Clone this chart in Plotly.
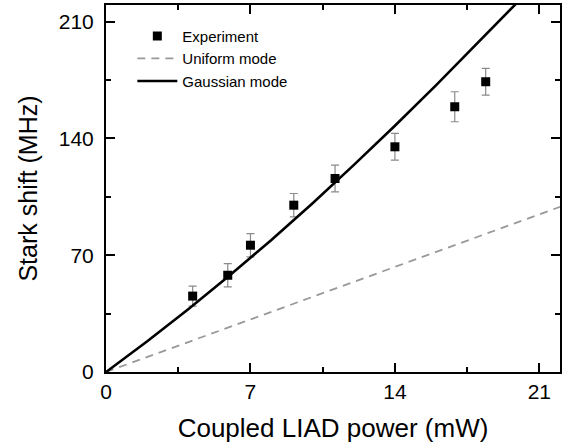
import plotly.graph_objects as go

# Experimental data
exp_power = [4.2, 5.9, 7.0, 9.1, 11.1, 14.0, 16.9, 18.4]
exp_shift = [45.5, 58, 76, 100, 116, 135, 159, 174]
exp_err = [6, 7, 7, 7, 8, 8, 9, 8]

# Uniform mode (dashed)
uni_power = [0, 22]
uni_shift = [0, 99]

# Gaussian mode (solid)
gau_power = [0, 2, 4, 6, 8, 10, 12, 14, 16, 18, 20, 21]
gau_shift = [0, 18.4, 37.8, 58, 79, 101, 124, 147.6, 172, 197, 222, 235]

x_ticks = [0, 7, 14, 21]
y_ticks = [0, 70, 140, 210]

FONT = "Liberation Sans, Arial, sans-serif"

fig = go.Figure()
fig.add_trace(go.Scatter(
    x=exp_power, y=exp_shift, mode="markers", name="Experiment",
    marker=dict(symbol="square", size=9, color="black"),
    error_y=dict(type="data", array=exp_err, color="#8a8a8a", thickness=1.2, width=4),
))
fig.add_trace(go.Scatter(
    x=uni_power, y=uni_shift, mode="lines", name="Uniform mode",
    line=dict(color="#999999", width=1.8, dash="8px,6px"),
))
fig.add_trace(go.Scatter(
    x=gau_power, y=gau_shift, mode="lines", name="Gaussian mode",
    line=dict(color="black", width=2.6),
))

axis_common = dict(
    showline=True, linecolor="black", linewidth=2, mirror="ticks",
    ticks="inside", ticklen=9, tickwidth=2, tickcolor="black",
    showgrid=False, zeroline=False, automargin=False,
    tickfont=dict(family=FONT, size=21, color="black"),
)

fig.update_xaxes(
    range=[0, 22], tickvals=x_ticks,
    minor=dict(dtick=3.5, ticks="inside", ticklen=5, tickwidth=2, tickcolor="black", showgrid=False),
    title=dict(text="Coupled LIAD power (mW)", font=dict(family=FONT, size=26, color="black"), standoff=17),
    ticklabelstandoff=0,
    **axis_common,
)
fig.update_yaxes(
    range=[0, 220], tickvals=y_ticks,
    minor=dict(dtick=35, ticks="inside", ticklen=5, tickwidth=2, tickcolor="black", showgrid=False),
    title=dict(text="Stark shift (MHz)", font=dict(family=FONT, size=25, color="black"), standoff=14),
    ticklabelstandoff=6,
    **axis_common,
)

fig.update_layout(
    width=562, height=446,
    margin=dict(l=106, r=2, t=5, b=74),
    paper_bgcolor="white", plot_bgcolor="white",
    font=dict(family=FONT, color="black"),
    legend=dict(
        x=0.058, y=0.96, xanchor="left", yanchor="top",
        bgcolor="rgba(0,0,0,0)", font=dict(family=FONT, size=15, color="black"),
        itemwidth=40, tracegroupgap=0,
    ),
)

fig.write_html(
    "out.html",
    config={"displayModeBar": False},
    post_script="document.body.style.margin='0';document.body.style.overflow='hidden';",
)
